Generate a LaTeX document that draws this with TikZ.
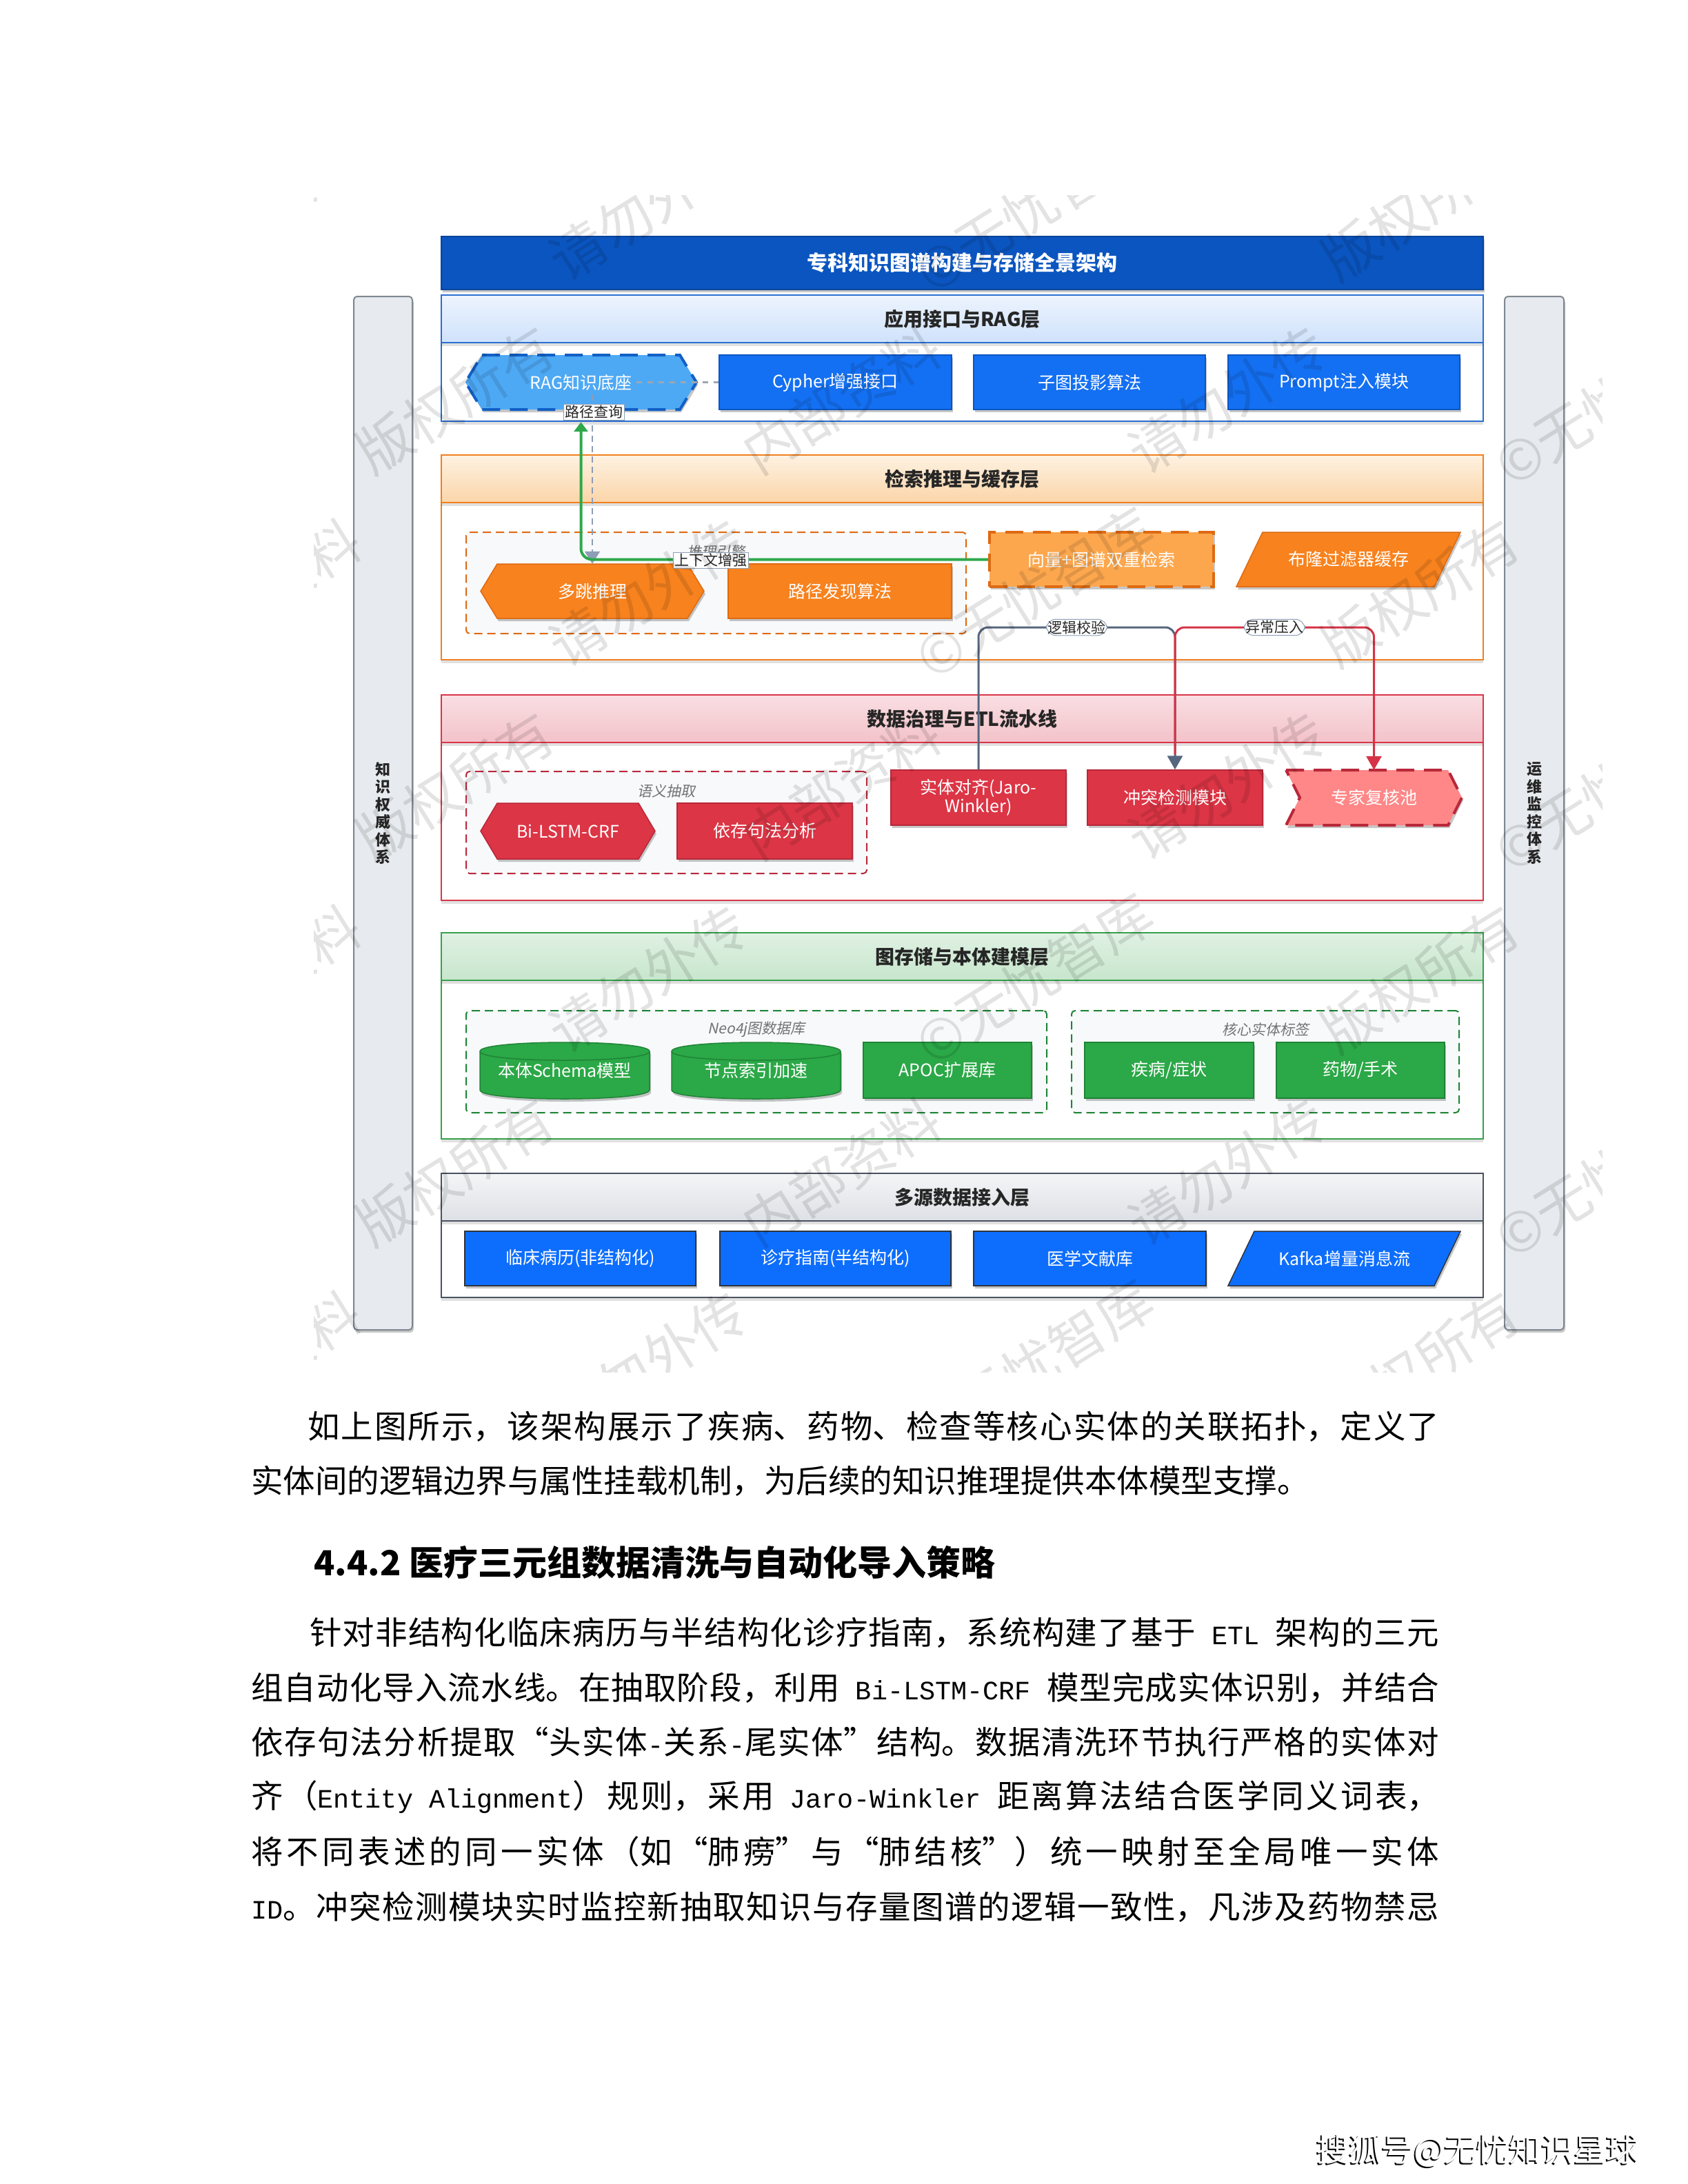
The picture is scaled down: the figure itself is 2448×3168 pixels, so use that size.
\documentclass[tikz,border=0pt]{standalone}
\usepackage{fontspec}
\setmainfont{Noto Sans CJK SC}
\newfontfamily\cjkit[FakeSlant=0.2]{Noto Sans CJK SC}
\newfontfamily\monof{Liberation Mono}
\usetikzlibrary{shadows,arrows.meta}
\newcommand\fs[1]{\fontsize{#1}{#1}\selectfont}
\newcommand\mn[1]{{\monof\fontsize{38.5}{40}\selectfont #1}}
\newcommand\bodyfont{\fs{46.5}\XeTeXlinebreaklocale "zh"\XeTeXlinebreakskip=0pt plus 1fil\relax}
% colours
\definecolor{cTtl}{HTML}{0B55C0}\definecolor{cTtlb}{HTML}{0A4499}
\definecolor{cLib}{HTML}{2A6FD0}\definecolor{cLit}{HTML}{EDF4FE}\definecolor{cLiu}{HTML}{CFE2FB}
\definecolor{cLiib}{HTML}{F0801F}\definecolor{cLiit}{HTML}{FEF2E2}\definecolor{cLiiu}{HTML}{FBD5A8}
\definecolor{cLiiib}{HTML}{D93549}\definecolor{cLiiit}{HTML}{F9DFE3}\definecolor{cLiiiu}{HTML}{F3C2C9}
\definecolor{cLivb}{HTML}{36A24C}\definecolor{cLivt}{HTML}{E0F1E3}\definecolor{cLivu}{HTML}{C7E6CC}
\definecolor{cLvb}{HTML}{4A525E}\definecolor{cLvt}{HTML}{F4F5F7}\definecolor{cLvu}{HTML}{DDE0E5}
\definecolor{cBl}{HTML}{1470F2}\definecolor{cBlb}{HTML}{0C55C2}
\definecolor{cBlv}{HTML}{0D6EFD}\definecolor{cDk}{HTML}{2F343B}
\definecolor{cRag}{HTML}{4EA9F5}\definecolor{cRagb}{HTML}{1160C6}
\definecolor{cOr}{HTML}{F7821E}\definecolor{cOrb}{HTML}{DE6A12}\definecolor{cOrl}{HTML}{FCA74E}
\definecolor{cRd}{HTML}{DC3545}\definecolor{cRdb}{HTML}{B8283A}\definecolor{cRdl}{HTML}{FF8787}
\definecolor{cGn}{HTML}{2BA847}\definecolor{cGnb}{HTML}{1F8436}
\definecolor{cSbf}{HTML}{E7EAEE}\definecolor{cSbb}{HTML}{7F8792}
\definecolor{cGrp}{HTML}{F8F9FB}
\definecolor{cLnk}{HTML}{2EA84B}\definecolor{cSlt}{HTML}{56667E}\definecolor{cGdl}{HTML}{8D9DB6}
\definecolor{cLbl}{HTML}{8E9FB6}\definecolor{cRed}{HTML}{D63346}\definecolor{cGdot}{HTML}{9EA6B0}
% shape macros: style, name, x1, y1, x2, y2, text
\newcommand\rectn[7]{\node[#1,minimum width={#5-#3},minimum height={#6-#4}] (#2) at ({(#3+#5)/2},{(#4+#6)/2}) {#7};}
\newcommand\txtn[6]{\node[ntext,minimum width={#4-#2},minimum height={#5-#3}] (#1) at ({(#2+#4)/2},{(#3+#5)/2}) {#6};}
\newcommand\hexn[7]{\path[#1] (#3+24,#4) -- (#5-24,#4) -- (#5,{(#4+#6)/2}) -- (#5-24,#6) -- (#3+24,#6) -- (#3,{(#4+#6)/2}) -- cycle;
  \txtn{#2}{#3}{#4}{#5}{#6}{#7}}
\newcommand\parn[7]{\path[#1] (#3+38,#4) -- (#5,#4) -- (#5-38,#6) -- (#3,#6) -- cycle;
  \txtn{#2}{#3}{#4}{#5}{#6}{#7}}
\newcommand\stepn[7]{\path[#1] (#3,#4) -- (#5-20,#4) -- (#5,{(#4+#6)/2}) -- (#5-20,#6) -- (#3,#6) -- (#3+20,{(#4+#6)/2}) -- cycle;
  \txtn{#2}{#3}{#4}{#5}{#6}{#7}}
\newcommand\cyln[7]{\path[#1] (#3,#4+13) -- (#3,#6-13) .. controls (#3,#6+4.33) and (#5,#6+4.33) .. (#5,#6-13) -- (#5,#4+13) .. controls (#5,#4-4.33) and (#3,#4-4.33) .. (#3,#4+13) -- cycle;
  \path[draw=cGnb,line width=1.5pt] (#3,#4+13) .. controls (#3,#4+30.33) and (#5,#4+30.33) .. (#5,#4+13);
  \txtn{#2}{#3}{#4}{#5}{#6}{#7}}
\newcommand\grp[6]{\node[grpbox,draw=#2,minimum width={#5-#3},minimum height={#6-#4}] (#1) at ({(#3+#5)/2},{(#4+#6)/2}) {};}
\newcommand\layerbox[8]{%
  \path[draw=#2,line width=1.5pt,fill=white,lshad] (640,#5) rectangle (2151,#7);
  \path[draw=#2,line width=1.5pt,top color=#3,bottom color=#4,lshad] (640,#5) rectangle (2151,#6);
  \node[hdr] (#1) at (1395.5,{(#5+#6)/2}) {#8};}
\tikzset{
 ntext/.style={font=\fs{25},text=white,align=center,inner sep=0pt},
 shad/.style={drop shadow={shadow xshift=2pt,shadow yshift=-4pt,opacity=0.22,fill=black}},
 lshad/.style={drop shadow={shadow xshift=0pt,shadow yshift=-5pt,opacity=0.12,fill=black}},
 hdr/.style={font=\fs{28}\bfseries,text=black!85,inner sep=0pt},
 titlebar/.style={fill=cTtl,draw=cTtlb,line width=1.5pt,font=\fs{30}\bfseries,text=white,inner sep=0pt,shad},
 sidebar/.style={fill=cSbf,draw=cSbb,line width=2pt,rounded corners=5pt,font=\fontsize{22}{25.5}\selectfont\bfseries,text=black!85,align=center,inner sep=0pt,shad},
 bluebox/.style={ntext,fill=cBl,draw=cBlb,line width=1.5pt,shad},
 bluev/.style={ntext,fill=cBlv,draw=cDk,line width=1.5pt,shad},
 bluevshape/.style={fill=cBlv,draw=cDk,line width=1.5pt,shad},
 ragshape/.style={fill=cRag,draw=cRagb,line width=4pt,dash pattern=on 26pt off 14pt,shad},
 orbox/.style={ntext,fill=cOr,draw=cOrb,line width=1.5pt,shad},
 orshape/.style={fill=cOr,draw=cOrb,line width=1.5pt,shad},
 orlbox/.style={ntext,fill=cOrl,draw=cOrb,line width=4pt,dash pattern=on 26pt off 14pt,shad},
 rdbox/.style={ntext,fill=cRd,draw=cRdb,line width=1.5pt,shad},
 rdshape/.style={fill=cRd,draw=cRdb,line width=1.5pt,shad},
 rdlshape/.style={fill=cRdl,draw=cRdb,line width=4pt,dash pattern=on 26pt off 14pt,shad},
 gnbox/.style={ntext,fill=cGn,draw=cGnb,line width=1.5pt,shad},
 gnshape/.style={fill=cGn,draw=cGnb,line width=1.5pt,shad},
 grpbox/.style={fill=cGrp,line width=2pt,dash pattern=on 12pt off 7pt,rounded corners=5pt,inner sep=0pt},
 grplbl/.style={font=\cjkit\fs{21},text=black!55,inner sep=0pt},
 lbl/.style={fill=white,draw=cLbl,line width=1pt,font=\fs{21},text=black!85,inner sep=2pt},
 grnline/.style={draw=cLnk,line width=4pt,rounded corners=16pt,-{Triangle[length=14pt,width=20pt]},shorten >=18pt},
 gdash/.style={draw=cGdl,line width=2pt,dash pattern=on 9pt off 6pt,-{Triangle[length=18pt,width=22pt]},shorten <=-22pt},
 gdot/.style={draw=cGdot,line width=3.5pt,dash pattern=on 8pt off 8pt,shorten <=80pt},
 sltline/.style={draw=cSlt,line width=3pt,rounded corners=14pt,-{Triangle[length=20pt,width=22pt]}},
 redline/.style={draw=cRed,line width=3pt,rounded corners=14pt,-{Triangle[length=20pt,width=22pt]},shorten <=22pt},
 body/.style={font=\bodyfont,text=black,inner sep=0pt,anchor=west,align=justify},
 wm/.style={font=\fs{80},text=black,text opacity=0.11,rotate=32,inner sep=0pt}
}
\begin{document}
\begin{tikzpicture}[x=1pt,y=-1pt]
\useasboundingbox[fill=white] (0,0) rectangle (2448,3168);

% title bar
\node[titlebar,minimum width=1511,minimum height=77] (title) at (1395.5,381.5) {专科知识图谱构建与存储全景架构};

% side bars
\node[sidebar,minimum width=85,minimum height=1499] (lbar) at (555.5,1179.5) {知\\识\\权\\威\\体\\系};
\node[sidebar,minimum width=86,minimum height=1499] (rbar) at (2225,1179.5) {运\\维\\监\\控\\体\\系};

% layers
\layerbox{Li}{cLib}{cLit}{cLiu}{428}{497}{611}{应用接口与RAG层}
\layerbox{Lii}{cLiib}{cLiit}{cLiiu}{660}{729}{957}{检索推理与缓存层}
\layerbox{Liii}{cLiiib}{cLiiit}{cLiiiu}{1008}{1077}{1306}{数据治理与ETL流水线}
\layerbox{Liv}{cLivb}{cLivt}{cLivu}{1353}{1422}{1652}{图存储与本体建模层}
\layerbox{Lv}{cLvb}{cLvt}{cLvu}{1702}{1771}{1882}{多源数据接入层}

% layer 1
\hexn{ragshape}{rag}{675}{515}{1010}{594}{RAG知识底座}
\rectn{bluebox}{cypher}{1043}{515}{1380}{594}{Cypher增强接口}
\rectn{bluebox}{subg}{1412}{515}{1748}{594}{子图投影算法}
\rectn{bluebox}{prompt}{1781}{515}{2117}{594}{Prompt注入模块}

% layer 2
\grp{gi}{cOrb}{676}{772}{1401}{919}
\node[grplbl] (gil) at (1038,800) {推理引擎};
\hexn{orshape}{mh}{697}{818}{1021}{897}{多跳推理}
\rectn{orbox}{pf}{1056}{818}{1380}{897}{路径发现算法}
\rectn{orlbox}{vec}{1435}{772}{1760}{851}{向量+图谱双重检索}
\parn{orshape}{bloom}{1793}{772}{2118}{851}{布隆过滤器缓存}

% layer 3
\grp{gii}{cRdb}{676}{1119}{1257}{1267}
\node[grplbl] (giil) at (966,1147) {语义抽取};
\hexn{rdshape}{bl}{697}{1165}{950}{1246}{Bi-LSTM-CRF}
\rectn{rdbox}{dep}{982}{1165}{1236}{1246}{依存句法分析}
\rectn{rdbox}{al}{1292}{1117}{1546}{1197}{实体对齐(Jaro-\\Winkler)}
\rectn{rdbox}{cf}{1577}{1117}{1831}{1197}{冲突检测模块}
\stepn{rdlshape}{ex}{1865}{1117}{2120}{1197}{专家复核池}

% layer 4
\grp{giii}{cGnb}{676}{1466}{1518}{1614}
\node[grplbl] (giiil) at (1097,1493) {Neo4j图数据库};
\grp{giv}{cGnb}{1554}{1466}{2116}{1614}
\node[grplbl] (givl) at (1835,1493) {核心实体标签};
\cyln{gnshape}{sch}{696}{1512}{942}{1594}{本体Schema模型}
\cyln{gnshape}{idx}{974}{1512}{1219}{1594}{节点索引加速}
\rectn{gnbox}{apoc}{1252}{1512}{1496}{1593}{APOC扩展库}
\rectn{gnbox}{dis}{1573}{1512}{1818}{1593}{疾病/症状}
\rectn{gnbox}{drug}{1851}{1512}{2095}{1593}{药物/手术}

% layer 5
\rectn{bluev}{emr}{674}{1786}{1009}{1865}{临床病历(非结构化)}
\rectn{bluev}{gd}{1044}{1786}{1379}{1865}{诊疗指南(半结构化)}
\rectn{bluev}{lit}{1412}{1786}{1749}{1865}{医学文献库}
\parn{bluevshape}{kafka}{1781}{1786}{2118}{1865}{Kafka增量消息流}

% connectors
\draw[gdot] (rag.center) -- (cypher.west);
\draw[gdash] (rag.south -| mh.north) -- (mh.north);
\draw[grnline] (vec.west) -| (rag.south);
\node[lbl] (lq) at (861,598) {路径查询};
\node[lbl] (lctx) at (1031,813) {上下文增强};
\coordinate (lt) at (1560,910);
\draw[sltline] (al.north) -- (al.north |- lt) -- node[lbl] (lchk) {逻辑校验} (cf.north |- lt) -- (cf.north);
\draw[redline] (cf.north) -- (cf.north |- lt) -- node[lbl] (lexc) {异常压入} (ex.north |- lt) -- (ex.north);

% watermark
\begin{scope}
 \clip (455,283) rectangle (2323,1990);
 \foreach \r in {0,...,6}{\foreach \c in {0,...,4}{
   \pgfmathtruncatemacro\wk{mod(2*\r+\c,4)}
   \pgfmathsetmacro\wx{380+\c*560-mod(\r,2)*280}
   \pgfmathsetmacro\wy{300+\r*280}
   \node[wm] (wm\r\c) at (\wx,\wy) {\ifcase\wk 内部资料\or 请勿外传\or ©无忧智库\or 版权所有\fi};
 }}
\end{scope}

% body text
\node[body,text width=1641pt] (pa) at (446,2069) {\noindent\parfillskip=0pt 如上图所示，该架构展示了疾病、药物、检查等核心实体的关联拓扑，定义了\par};
\node[font=\fs{46.5},text=black,inner sep=0pt,anchor=west] (pb) at (364,2148) {实体间的逻辑边界与属性挂载机制，为后续的知识推理提供本体模型支撑。};
\node[font=\fs{50}\bfseries,text=black,inner sep=0pt,anchor=west] (hd) at (455,2266) {4.4.2 医疗三元组数据清洗与自动化导入策略};
\node[body,text width=1638pt] (qa) at (449,2368) {\noindent\parfillskip=0pt 针对非结构化临床病历与半结构化诊疗指南，系统构建了基于\mn{ ETL }架构的三元\par};
\node[body,text width=1723pt] (qb) at (364,2448) {\noindent\parfillskip=0pt 组自动化导入流水线。在抽取阶段，利用\mn{ Bi-LSTM-CRF }模型完成实体识别，并结合\par};
\node[body,text width=1723pt] (qc) at (364,2527) {\noindent\parfillskip=0pt 依存句法分析提取“头实体\mn{-}关系\mn{-}尾实体”结构。数据清洗环节执行严格的实体对\par};
\node[body,text width=1723pt] (qd) at (364,2607) {\noindent\parfillskip=0pt 齐（\mn{Entity Alignment}）规则，采用\mn{ Jaro-Winkler }距离算法结合医学同义词表，\par};
\node[body,text width=1723pt] (qe) at (364,2686) {\noindent\parfillskip=0pt 将不同表述的同一实体（如“肺痨”与“肺结核”）统一映射至全局唯一实体\par};
\node[body,text width=1723pt] (qf) at (364,2766) {\noindent\parfillskip=0pt \mn{ID}。冲突检测模块实时监控新抽取知识与存量图谱的逻辑一致性，凡涉及药物禁忌\par};

% footer
\node[font=\fs{47},text=black,inner sep=0pt,anchor=west] (ftsh) at (1907,3122) {搜狐号@无忧知识星球};
\node[font=\fs{47},text=white,inner sep=0pt,anchor=west] (ft) at (1909,3120) {搜狐号@无忧知识星球};
\end{tikzpicture}
\end{document}
